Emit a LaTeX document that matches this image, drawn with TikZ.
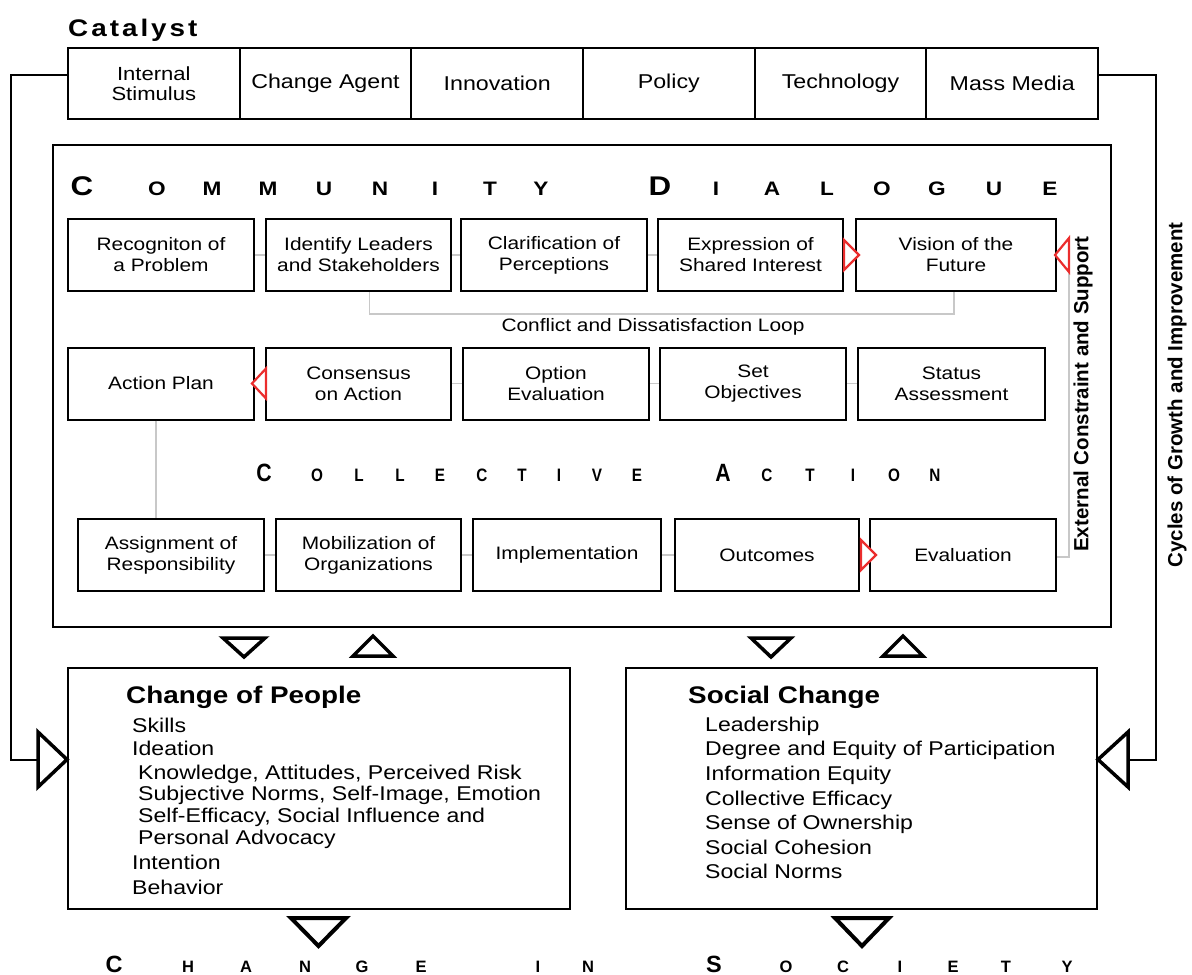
\documentclass[tikz,border=0pt]{standalone}
\usepackage{fontspec}
\setmainfont{Liberation Sans}[FakeStretch=1.16]
\newfontfamily\plainsans{Liberation Sans}
\newfontfamily\narrowsans{Liberation Sans}[FakeStretch=0.85]
\usetikzlibrary{calc}
\definecolor{linkgray}{RGB}{200,200,200}
\definecolor{tri red}{RGB}{235,45,45}
\tikzset{
  catbox/.style={draw, line width=1.8pt, minimum width=171.67pt, minimum height=71pt, inner sep=0pt, align=center},
  stepbox/.style={draw, line width=2pt, minimum height=72pt, inner sep=0pt, align=center, font=\fontsize{18}{21}\selectfont},
  bigbox/.style={draw, line width=2pt, inner sep=0pt},
  glink/.style={draw=linkgray, line width=1.8pt},
  redtri/.style={draw=tri red, line width=2.2pt, fill=white, line join=miter},
  blktri/.style={draw=black, line width=3.5pt, fill=white, line join=miter},
  loopline/.style={draw=black, line width=2pt},
  bigcap/.style={anchor=base, inner sep=0pt, font=\bfseries\fontsize{27}{27}\selectfont},
  smallcap/.style={anchor=base, inner sep=0pt, font=\bfseries\fontsize{19.5}{19.5}\selectfont},
  cbig/.style={anchor=base, inner sep=0pt, font=\narrowsans\bfseries\fontsize{25}{25}\selectfont},
  csmall/.style={anchor=base, inner sep=0pt, font=\narrowsans\bfseries\fontsize{18}{18}\selectfont},
  sbig/.style={anchor=base, inner sep=0pt, font=\plainsans\bfseries\fontsize{23.5}{23.5}\selectfont},
  ssmall/.style={anchor=base, inner sep=0pt, font=\plainsans\bfseries\fontsize{16.5}{16.5}\selectfont},
  boxtitle/.style={anchor=base west, inner sep=0pt, font=\bfseries\fontsize{24}{24}\selectfont},
  item/.style={anchor=base west, inner sep=0pt, font=\fontsize{19.9}{20}\selectfont},
  sidelabel/.style={rotate=90, inner sep=0pt, font=\plainsans\bfseries\fontsize{20.5}{20.5}\selectfont}
}
\begin{document}
\begin{tikzpicture}[x=1pt,y=-1pt]
\useasboundingbox (0,0) rectangle (1192,975);

% ---------- Catalyst ----------
\node[anchor=base west, inner sep=0pt, font=\bfseries\fontsize{24}{24}\selectfont] (cattitle) at (68,36)
  {C\kern3pt a\kern3pt t\kern3pt a\kern3pt l\kern3pt y\kern3pt s\kern3pt t};
\node[catbox, font=\fontsize{19}{20}\selectfont] (cat1) at (153.8,83.5) {Internal\\Stimulus};
\node[catbox, font=\fontsize{20}{22}\selectfont] (cat2) at (325.5,83.5) {Change Agent};
\node[catbox, font=\fontsize{20}{22}\selectfont] (cat3) at (497.2,83.5) {Innovation};
\node[catbox, font=\fontsize{20}{22}\selectfont] (cat4) at (668.8,83.5) {Policy};
\node[catbox, font=\fontsize{20}{22}\selectfont] (cat5) at (840.5,83.5) {Technology};
\node[catbox, font=\fontsize{20}{22}\selectfont] (cat6) at (1012.2,83.5) {Mass Media};

% ---------- main box ----------
\node[draw, line width=2.4pt, minimum width=1058pt, minimum height=482pt, inner sep=0pt] (main) at (582,386) {};

% COMMUNITY DIALOGUE
\node[bigcap] (cdC) at (82,195) {C};
\foreach \ch/\xx [count=\i] in {O/157,M/212,M/268,U/324,N/380,I/435,T/490,Y/541}
  \node[smallcap, name=cdA\i] at (\xx,195) {\ch};
\node[bigcap] (cdD) at (660,195) {D};
\foreach \ch/\xx [count=\i] in {I/716,A/772,L/827,O/882,G/937,U/994,E/1050}
  \node[smallcap, name=cdB\i] at (\xx,195) {\ch};

% Row 1
\node[stepbox, minimum width=186pt] (b1) at (161,255) {Recogniton of\\a Problem};
\node[stepbox, minimum width=185pt] (b2) at (358.5,255) {Identify Leaders\\and Stakeholders};
\node[stepbox, minimum width=186pt] (b3) at (554,255) {Clarification of\\Perceptions};
\node[stepbox, minimum width=185pt] (b4) at (750.5,255) {Expression of\\Shared Interest};
\node[stepbox, minimum width=200pt] (b5) at (956,255) {Vision of the\\Future};

% Row 2
\node[stepbox, minimum width=186pt] (c1) at (161,383.5) {Action Plan};
\node[stepbox, minimum width=185pt] (c2) at (358.5,383.5) {Consensus\\on Action};
\node[stepbox, minimum width=186pt] (c3) at (556,383.5) {Option\\Evaluation};
\node[stepbox, minimum width=186pt] (c4) at (753,383.5) {Set\\Objectives};
\node[stepbox, minimum width=187pt] (c5) at (951.5,383.5) {Status\\Assessment};

% COLLECTIVE ACTION
\node[cbig] (caC) at (264,481) {C};
\foreach \ch/\xx [count=\i] in {O/317,L/359,L/400,E/440,C/482,T/522,I/559,V/597,E/637}
  \node[csmall, name=caA\i] at (\xx,481) {\ch};
\node[cbig] (caA) at (723,481) {A};
\foreach \ch/\xx [count=\i] in {C/767,T/810,I/853,O/894,N/935}
  \node[csmall, name=caB\i] at (\xx,481) {\ch};

% Row 3
\node[stepbox, minimum width=186pt] (d1) at (171,555) {Assignment of\\Responsibility};
\node[stepbox, minimum width=185pt] (d2) at (368.5,555) {Mobilization of\\Organizations};
\node[stepbox, minimum width=188pt] (d3) at (567,555) {Implementation};
\node[stepbox, minimum width=184pt] (d4) at (767,555) {Outcomes};
\node[stepbox, minimum width=186pt] (d5) at (963,555) {Evaluation};

% gray links
\draw[glink] (b1.east) -- (b2.west);
\draw[glink] (b2.east) -- (b3.west);
\draw[glink] (b3.east) -- (b4.west);
\draw[glink] (c2.east) -- (c3.west);
\draw[glink] (c3.east) -- (c4.west);
\draw[glink] (c4.east) -- (c5.west);
\draw[glink] (d1.east) -- (d2.west);
\draw[glink] (d2.east) -- (d3.west);
\draw[glink] (d3.east) -- (d4.west);
\draw[glink] ([xshift=11pt]b2.south) -- ++(0,22) -| ([xshift=-2pt]b5.south);
\node[inner sep=0pt, font=\fontsize{18}{20}\selectfont] (loopl) at (653,327) {Conflict and Dissatisfaction Loop};
\draw[glink] ([xshift=-5pt]c1.south) -- ([xshift=-5pt]c1.south |- d1.north);
\coordinate (extc) at (1069,272);
\draw[glink] ([yshift=-2pt]d5.east) -| (extc);

% red triangles
\draw[redtri] ($(b4.east)+(0,-15)$) -- ($(b4.east)+(0,15)$) -- ($(b5.west)+(4,0)$) -- cycle;
\draw[redtri] ($(b5.east)+(-2,0)$) -- (1069,238) -- (extc) -- cycle;
\draw[redtri] ($(c1.east)+(-3,0)$) -- ($(c2.west)+(1,-15)$) -- ($(c2.west)+(1,15)$) -- cycle;
\draw[redtri] ($(d4.east)+(1,-15)$) -- ($(d4.east)+(1,15)$) -- ($(d5.west)+(7,0)$) -- cycle;

% side labels
\node[sidelabel] (ext) at (1083,394) {External Constraint and Support};
\node[sidelabel] (cyc) at (1177,395) {Cycles of Growth and Improvement};

% ---------- lower boxes ----------
\node[bigbox, minimum width=502pt, minimum height=241pt] (people) at (319,788.5) {};
\node[bigbox, minimum width=471pt, minimum height=241pt] (social) at (861.5,788.5) {};

\node[boxtitle] (pt) at (126,703) {Change of People};
\node[item] (p1) at (132,732) {Skills};
\node[item] (p2) at (132,755) {Ideation};
\node[item] (p3) at (138,779) {Knowledge, Attitudes, Perceived Risk};
\node[item] (p4) at (138,800) {Subjective Norms, Self-Image, Emotion};
\node[item] (p5) at (138,822) {Self-Efficacy, Social Influence and};
\node[item] (p6) at (138,844) {Personal Advocacy};
\node[item] (p7) at (132,869) {Intention};
\node[item] (p8) at (132,894) {Behavior};

\node[boxtitle] (st) at (688,703) {Social Change};
\node[item] (s1) at (705,731) {Leadership};
\node[item] (s2) at (705,755) {Degree and Equity of Participation};
\node[item] (s3) at (705,780) {Information Equity};
\node[item] (s4) at (705,805) {Collective Efficacy};
\node[item] (s5) at (705,829) {Sense of Ownership};
\node[item] (s6) at (705,854) {Social Cohesion};
\node[item] (s7) at (705,878) {Social Norms};

% triangles between main box and lower boxes
\draw[blktri] (223,638) -- (265,638) -- (244,657) -- cycle;
\draw[blktri] (353,656) -- (393,656) -- (373,636) -- cycle;
\draw[blktri] (751,638) -- (791,638) -- (771,657) -- cycle;
\draw[blktri] (883,656) -- (923,656) -- (903,636) -- cycle;

% loops
\coordinate (lcorner) at (11,759.5);
\coordinate (lbase) at (38,759.5);
\coordinate (rcorner) at (1156,759.5);
\coordinate (rbase) at (1128,759.5);
\draw[loopline] ([yshift=9pt]cat1.west) -| (lcorner) -- (lbase);
\draw[loopline] ([yshift=9pt]cat6.east) -| (rcorner) -- (rbase);
\draw[blktri] (38,732) -- (38,787) -- (people.west |- lbase) -- cycle;
\draw[blktri] (1128,732) -- (1128,787) -- (social.east |- rbase) -- cycle;

% bottom triangles
\draw[blktri, line width=4pt] (291,918) -- (346,918) -- (318.5,946) -- cycle;
\draw[blktri, line width=4pt] (835,918) -- (889,918) -- (862,946) -- cycle;

% CHANGE IN SOCIETY
\node[sbig] (ciC) at (114,972) {C};
\foreach \ch/\xx [count=\i] in {H/188,A/246,N/305,G/362,E/421,I/538,N/588}
  \node[ssmall, name=ciA\i] at (\xx,972) {\ch};
\node[sbig] (ciS) at (714,972) {S};
\foreach \ch/\xx [count=\i] in {O/786,C/843,I/900,E/953,T/1006,Y/1067}
  \node[ssmall, name=ciB\i] at (\xx,972) {\ch};
\end{tikzpicture}
\end{document}
